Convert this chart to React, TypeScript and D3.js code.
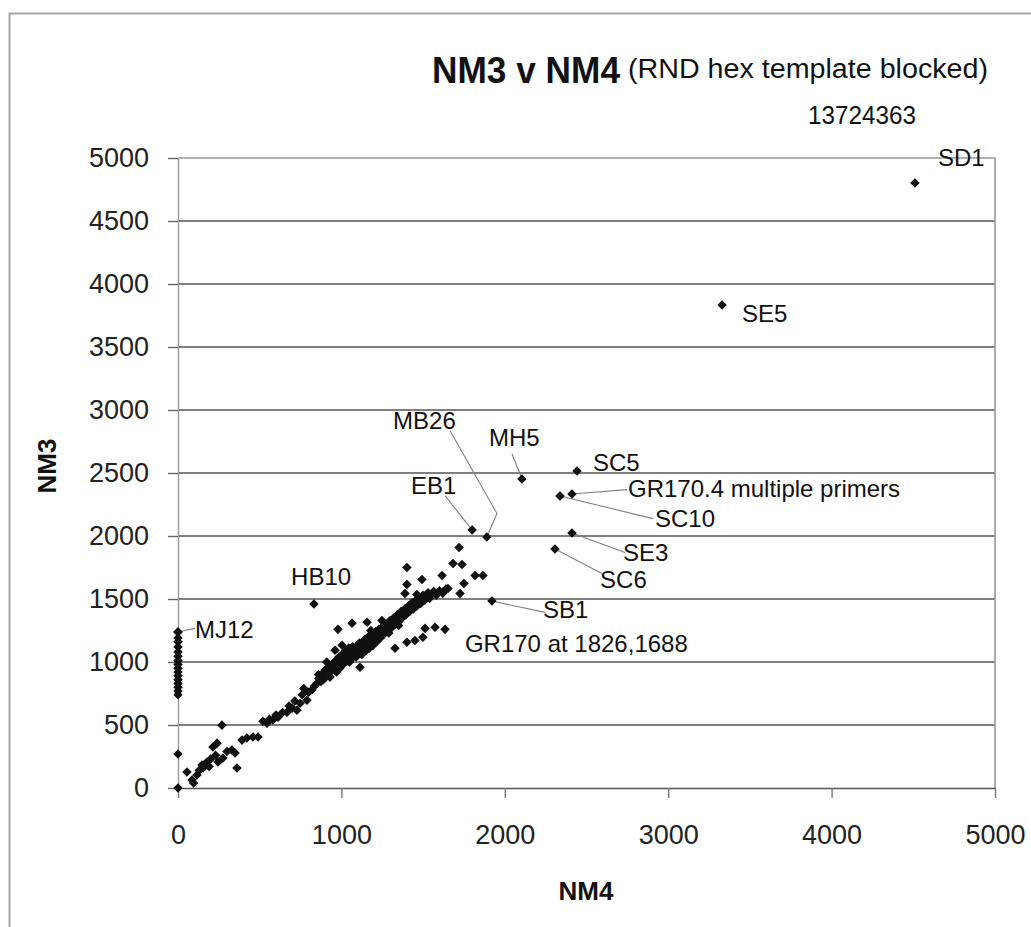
import React, { useEffect, useRef } from "react";
import * as d3 from "d3";

// Unlabelled points: NM4 on x, NM3 on y
const clusterNM4 = [
  55, 86, 116, 147, 153, 177, 214, 239, 245, 269, 275, 330, 349, 361, 392, 422, 459, 490,
  520, 545, 560, 581, 612, 640, 667, 680, 698, 715, 728, 747, 760, 770, 789, 800, 820, 835,
  850, 862, 875, 880, 890, 900, 905, 915, 925, 930, 940, 949, 955, 965, 970, 980, 985, 990,
  1000, 1005, 1012, 1020, 1025, 1032, 1040, 1045, 1050, 1058, 1065, 1070, 1078, 1085, 1090,
  1098, 1105, 1110, 1114, 1120, 1125, 1130, 1138, 1145, 1150, 1158, 1165, 1170, 1178, 1185,
  1192, 1200, 1208, 1215, 1222, 1230, 1238, 1245, 1252, 1260, 1268, 1275, 1283, 1290, 1298,
  1305, 1312, 1320, 1328, 1335, 1342, 1350, 1358, 1365, 1372, 1380, 1388, 1395, 1402, 1410,
  1418, 1425, 1432, 1440, 1448, 1455, 1462, 1470, 1478, 1485, 1492, 1500, 1510, 1520, 1530,
  1540, 1550, 1565, 1580, 1600, 1620, 1640,
  979, 1065, 1157, 1248, 961, 1004,
  1328, 1401, 1450, 1499, 1512, 1573, 1634,
  1389, 1462, 1401, 1493, 1616, 1401, 1683, 1720, 1738, 1750, 1726, 1652, 1818, 1866,
  95, 130, 190, 200, 230, 300, 600, 860, 910, 1010, 1060, 1180, 1230, 1290, 1350,
];
const clusterNM3 = [
  127, 63, 103, 182, 158, 206, 325, 356, 206, 499, 238, 301, 277, 158, 380, 396, 404, 404,
  530, 515, 545, 539, 562, 600, 602, 650, 634, 690, 618, 673, 740, 790, 697, 760, 780, 810,
  830, 870, 845, 900, 860, 935, 890, 910, 960, 880, 930, 990, 950, 1010, 920, 975, 1040, 950,
  1000, 1060, 985, 1030, 1090, 1005, 1050, 1110, 1000, 1070, 1030, 1120, 1060, 1095, 1040,
  1130, 1080, 1150, 958, 1100, 1060, 1160, 1120, 1180, 1090, 1140, 1200, 1110, 1165, 1220,
  1130, 1180, 1240, 1160, 1210, 1260, 1190, 1235, 1280, 1220, 1265, 1300, 1250, 1290, 1330,
  1270, 1310, 1350, 1300, 1340, 1375, 1320, 1365, 1400, 1350, 1390, 1420, 1375, 1410, 1445,
  1400, 1435, 1470, 1420, 1460, 1490, 1445, 1480, 1510, 1465, 1500, 1530, 1490, 1525, 1550,
  1505, 1540, 1560, 1530, 1565, 1545, 1580,
  1259, 1307, 1315, 1330, 1093, 1133,
  1109, 1156, 1170, 1196, 1267, 1275, 1259,
  1544, 1536, 1616, 1655, 1687, 1750, 1782, 1909, 1774, 1623, 1544, 1584, 1687, 1687,
  40, 140, 170, 230, 260, 290, 580, 900, 1000, 1020, 1110, 1250, 1200, 1230, 1290,
];

// column of points sitting at NM4 = 0
const zeroColumnNM3 = [1238, 1190, 1160, 1120, 1080, 1045, 1010, 980, 950, 920, 890, 860, 830, 800, 770, 740, 270, 0];

// named points
const namedText = ["SD1", "SE5", "MB26", "MH5", "SC5", "GR170.4 multiple primers", "SC10", "EB1", "SE3", "SC6", "HB10", "SB1", "MJ12"];
const namedNM4 = [4510, 3330, 1890, 2105, 2442, 2411, 2338, 1800, 2411, 2307, 832, 1921, 0];
const namedNM3 = [4802, 3833, 1992, 2452, 2516, 2333, 2317, 2047, 2024, 1897, 1460, 1484, 1238];
// where each label sits, in chart units
const labelAtNM4 = [4651, 3452, 1316, 1903, 2540, 2754, 2919, 1426, 2723, 2583, 692, 2234, 104];
const labelAtNM3 = [4934, 3699, 2851, 2717, 2519, 2313, 2075, 2336, 1798, 1584, 1608, 1346, 1188];
// leader line start (null = no leader), optional bend
const leaderNM4 = [null, null, 1665, 2044, null, 2748, 2907, 1634, 2736, 2595, null, 2246, 104];
const leaderNM3 = [null, null, 2835, 2653, null, 2368, 2138, 2321, 1869, 1703, null, 1394, 1267];
const bendNM4 = [null, null, 1952, null, null, null, null, null, null, null, null, null, null];
const bendNM3 = [null, null, 2178, null, null, null, null, null, null, null, null, null, null];

const noteText = "GR170 at 1826,1688";
const noteNM4 = 1756;
const noteNM3 = 1077;

const xTicks = [0, 1000, 2000, 3000, 4000, 5000];
const yTicks = [0, 500, 1000, 1500, 2000, 2500, 3000, 3500, 4000, 4500, 5000];

const WIDTH = 1031;
const HEIGHT = 927;
const FONT = "'Liberation Sans', Arial, sans-serif";

const App = () => {
  const svgRef = useRef(null);

  useEffect(() => {
    const svg = d3.select(svgRef.current);
    svg.selectAll("*").remove();

    const margin = { top: 158, right: 36, bottom: 139, left: 178 };
    const x = d3.scaleLinear().domain([0, 5000]).range([margin.left, WIDTH - margin.right]);
    const y = d3.scaleLinear().domain([0, 5000]).range([HEIGHT - margin.bottom, margin.top]);

    svg.append("rect").attr("width", WIDTH).attr("height", HEIGHT).attr("fill", "white");

    // outer frame (left + top)
    svg
      .append("path")
      .attr("d", `M9.5,${HEIGHT} V13.5 H${WIDTH}`)
      .attr("fill", "none")
      .attr("stroke", "#a8a8a8")
      .attr("stroke-width", 2);

    // gridlines
    svg
      .append("g")
      .selectAll("line")
      .data(yTicks.filter((d) => d > 0 && d < 5000))
      .join("line")
      .attr("x1", x(0))
      .attr("x2", x(5000))
      .attr("y1", (d) => y(d))
      .attr("y2", (d) => y(d))
      .attr("stroke", "#555")
      .attr("stroke-width", 1.6);

    // plot border top + right
    svg
      .append("path")
      .attr("d", `M${x(0)},${y(5000)} H${x(5000)} V${y(0)}`)
      .attr("fill", "none")
      .attr("stroke", "#9a9a9a")
      .attr("stroke-width", 1.6);

    const xAxis = svg
      .append("g")
      .attr("transform", `translate(0,${y(0)})`)
      .call(d3.axisBottom(x).tickValues(xTicks).tickSize(10).tickSizeOuter(0).tickPadding(27).tickFormat(d3.format("d")));
    xAxis.select(".domain").attr("stroke", "#555").attr("stroke-width", 1.6);
    xAxis.selectAll(".tick line").attr("stroke", "#777").attr("stroke-width", 1.4);
    xAxis.selectAll("text").attr("font-family", FONT).attr("font-size", 27).attr("fill", "#222");

    const yAxis = svg
      .append("g")
      .attr("transform", `translate(${x(0)},0)`)
      .call(d3.axisLeft(y).tickValues(yTicks).tickSize(10).tickSizeOuter(0).tickPadding(19).tickFormat(d3.format("d")));
    yAxis.select(".domain").attr("stroke", "#999").attr("stroke-width", 1.4);
    yAxis.selectAll(".tick line").attr("stroke", "#666").attr("stroke-width", 1.4);
    yAxis.selectAll("text").attr("font-family", FONT).attr("font-size", 27).attr("fill", "#222");

    // leader lines
    const leaders = svg.append("g").attr("fill", "none").attr("stroke", "#808080").attr("stroke-width", 1.1);
    namedText.forEach((_, i) => {
      if (leaderNM4[i] === null) return;
      const pts = [[x(leaderNM4[i]), y(leaderNM3[i])]];
      if (bendNM4[i] !== null) pts.push([x(bendNM4[i]), y(bendNM3[i])]);
      pts.push([x(namedNM4[i]), y(namedNM3[i])]);
      leaders.append("path").attr("d", d3.line()(pts));
    });

    const diamond = d3.symbol(d3.symbolDiamond2, 58);
    const points = [
      ...clusterNM4.map((v, i) => [v, clusterNM3[i]]),
      ...zeroColumnNM3.map((v) => [0, v]),
      ...namedNM4.map((v, i) => [v, namedNM3[i]]),
    ];
    svg
      .append("g")
      .selectAll("path")
      .data(points)
      .join("path")
      .attr("d", diamond)
      .attr("transform", (d) => `translate(${x(d[0])},${y(d[1])})`)
      .attr("fill", "#111");

    // point labels
    svg
      .append("g")
      .attr("font-family", FONT)
      .attr("font-size", 24)
      .attr("fill", "#111")
      .selectAll("text")
      .data(namedText)
      .join("text")
      .attr("x", (d, i) => x(labelAtNM4[i]))
      .attr("y", (d, i) => y(labelAtNM3[i]))
      .text((d) => d);

    svg
      .append("text")
      .attr("x", x(noteNM4))
      .attr("y", y(noteNM3))
      .attr("font-family", FONT)
      .attr("font-size", 24)
      .attr("fill", "#111")
      .text(noteText);

    // titles
    svg
      .append("text")
      .attr("x", 432)
      .attr("y", 83)
      .attr("font-family", FONT)
      .attr("font-size", 36)
      .attr("font-weight", "bold")
      .attr("fill", "#111")
      .attr("textLength", 188)
      .attr("lengthAdjust", "spacingAndGlyphs")
      .text("NM3 v NM4");

    svg
      .append("text")
      .attr("x", 628)
      .attr("y", 78)
      .attr("font-family", FONT)
      .attr("font-size", 27)
      .attr("fill", "#111")
      .attr("textLength", 360)
      .attr("lengthAdjust", "spacingAndGlyphs")
      .text("(RND hex template blocked)");

    svg
      .append("text")
      .attr("x", 808)
      .attr("y", 124)
      .attr("font-family", FONT)
      .attr("font-size", 25)
      .attr("fill", "#111")
      .attr("textLength", 108)
      .attr("lengthAdjust", "spacingAndGlyphs")
      .text("13724363");

    svg
      .append("text")
      .attr("x", 586)
      .attr("y", 900)
      .attr("text-anchor", "middle")
      .attr("font-family", FONT)
      .attr("font-size", 26)
      .attr("font-weight", "bold")
      .attr("fill", "#111")
      .text("NM4");

    svg
      .append("text")
      .attr("transform", `translate(56,466) rotate(-90)`)
      .attr("text-anchor", "middle")
      .attr("font-family", FONT)
      .attr("font-size", 26)
      .attr("font-weight", "bold")
      .attr("fill", "#111")
      .text("NM3");
  }, []);

  return (
    <svg
      ref={svgRef}
      width={WIDTH}
      height={HEIGHT}
      style={{ position: "absolute", left: 0, top: 0, display: "block" }}
    />
  );
};

export default App;
